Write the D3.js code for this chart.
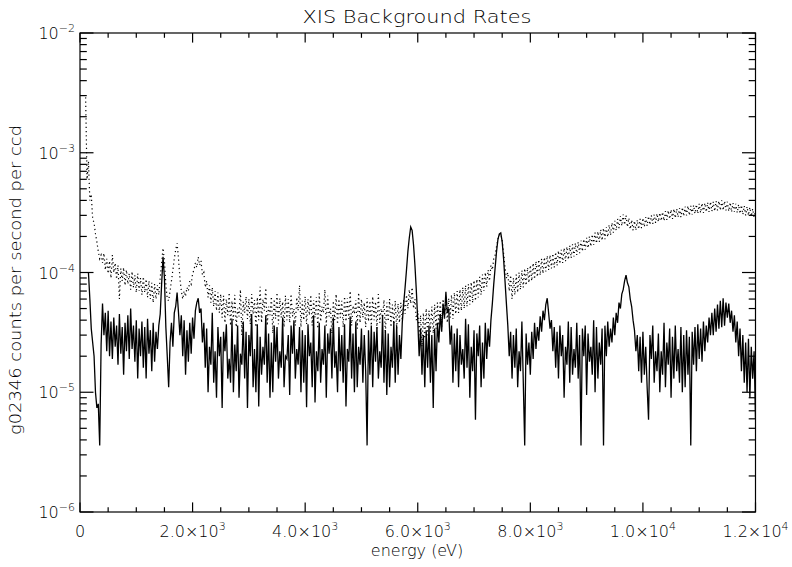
<!DOCTYPE html>
<html>
<head>
<meta charset="utf-8">
<script src="https://cdn.jsdelivr.net/npm/d3@7"></script>
<style>
  html, body { margin: 0; padding: 0; background: #fff; }
  svg { display: block; }
  text { font-family: "DejaVu Sans", "Liberation Sans", sans-serif; font-weight: 200; fill: #000; }
</style>
</head>
<body>
<svg id="chart" width="792" height="567"></svg>
<script>
// Channel grid: one sample every 25 eV from 0 to 12000 eV
const energyStart = 0;
const energyStep = 25;
// Rates below are listed in units of 1e-5 counts / s / ccd
const rateUnit = 1e-5;

// Instrument background (solid line)
const solidRate = [
  null, null, null, null, null, null, 10.0, 6.0, 3.4, 2.6,
  2.0, 1.0, 0.74, 0.8, 0.36, 2.5, 5.5, 3.0, 4.6, 2.2,
  4.8, 2.0, 3.9, 1.9, 4.2, 2.4, 3.6, 1.7, 4.5, 2.1,
  3.5, 1.4, 3.8, 2.2, 4.4, 1.9, 5.0, 2.3, 3.6, 1.8,
  4.0, 1.3, 3.4, 2.0, 3.9, 1.6, 3.5, 1.3, 4.1, 2.1,
  3.3, 1.5, 3.8, 1.8, 3.2, 2.3, 3.6, 4.5, 8.0, 13.5,
  9.0, 3.5, 2.0, 1.1, 2.6, 3.8, 2.4, 4.6, 5.2, 6.8,
  4.6, 3.0, 4.4, 2.0, 4.0, 1.4, 3.3, 1.8, 3.8, 2.1,
  4.2, 2.8, 4.8, 5.6, 6.1, 4.6, 5.0, 2.6, 3.8, 1.6,
  3.4, 1.0, 2.4, 1.7, 4.6, 1.2, 2.2, 0.9, 3.5, 2.0,
  2.9, 0.74, 3.2, 2.2, 3.7, 1.3, 1.9, 1.2, 4.1, 1.0,
  2.5, 1.5, 3.6, 0.9, 2.1, 1.7, 3.9, 1.3, 3.2, 0.74,
  3.0, 2.0, 4.5, 1.1, 2.3, 1.0, 3.7, 0.76, 2.9, 1.4,
  2.4, 1.7, 4.4, 1.2, 3.1, 0.9, 2.6, 1.0, 3.6, 1.8,
  3.5, 1.3, 2.2, 1.6, 4.2, 1.1, 2.0, 1.9, 3.0, 0.95,
  3.6, 2.1, 4.0, 1.3, 2.3, 1.7, 3.5, 1.0, 3.3, 1.2,
  3.0, 0.75, 3.7, 2.0, 2.6, 1.1, 4.4, 0.82, 2.2, 1.5,
  3.8, 1.2, 2.3, 1.7, 3.6, 0.9, 3.1, 2.1, 3.4, 1.3,
  4.2, 1.6, 2.2, 1.0, 3.5, 1.5, 3.0, 1.2, 3.7, 0.76,
  2.3, 1.8, 4.3, 1.3, 3.1, 1.0, 3.9, 1.1, 2.4, 1.7,
  3.4, 1.2, 3.0, 1.5, 0.36, 3.3, 1.4, 3.6, 1.1, 3.2,
  1.8, 3.5, 1.3, 2.2, 1.6, 4.4, 1.2, 3.3, 0.95, 3.1,
  1.1, 2.4, 1.6, 3.9, 1.2, 3.6, 1.4, 3.0, 1.9, 3.8,
  5.5, 7.5, 10.5, 15.0, 19.5, 24.0, 22.5, 17.0, 11.5, 7.0,
  4.0, 2.0, 3.4, 1.4, 3.0, 1.1, 3.3, 1.6, 3.6, 1.2,
  3.0, 0.74, 3.4, 1.5, 3.8, 2.6, 4.5, 3.2, 5.5, 4.2,
  6.9, 4.6, 5.0, 2.5, 3.6, 1.2, 3.1, 1.5, 3.4, 1.1,
  3.0, 1.7, 2.3, 1.3, 4.1, 1.6, 3.7, 0.9, 2.4, 1.5,
  3.3, 0.59, 3.1, 2.0, 3.6, 1.1, 2.6, 1.3, 3.8, 1.9,
  3.4, 2.4, 4.0, 5.5, 8.0, 11.0, 15.0, 19.0, 21.0, 21.4,
  18.0, 13.0, 8.5, 5.5, 3.6, 2.0, 3.2, 1.3, 3.0, 1.6,
  3.4, 1.1, 2.2, 1.5, 3.9, 1.2, 0.36, 3.1, 1.7, 2.6,
  1.4, 3.2, 1.9, 3.8, 2.3, 3.5, 2.7, 4.3, 3.2, 4.8,
  4.0, 5.4, 6.1, 4.6, 3.4, 4.0, 2.2, 3.5, 1.6, 3.2,
  1.3, 3.6, 2.0, 3.0, 0.9, 2.4, 1.7, 3.9, 1.2, 3.5,
  1.4, 2.3, 1.6, 3.8, 1.3, 3.0, 0.36, 3.4, 2.0, 3.6,
  0.95, 3.1, 1.8, 2.4, 1.4, 4.0, 1.0, 3.5, 1.3, 2.6,
  1.7, 3.4, 0.36, 3.6, 2.0, 3.9, 2.4, 3.4, 2.6, 4.2,
  3.0, 4.6, 3.8, 5.6, 5.0, 6.6, 7.2, 8.5, 9.5, 8.2,
  7.6, 6.0, 5.2, 4.0, 3.3, 2.2, 3.0, 1.5, 2.9, 1.2,
  3.2, 1.4, 2.4, 1.1, 0.59, 3.0, 1.9, 3.6, 1.2, 2.2,
  1.5, 3.1, 1.0, 2.2, 1.4, 3.8, 1.1, 2.6, 1.7, 3.4,
  0.9, 2.9, 1.3, 3.6, 1.5, 2.3, 1.2, 3.5, 1.0, 3.0,
  1.1, 3.3, 1.4, 2.9, 0.36, 3.2, 1.7, 3.5, 1.5, 3.7,
  1.9, 3.4, 1.8, 3.9, 2.2, 3.6, 2.6, 4.2, 3.0, 4.6,
  3.0, 5.0, 3.2, 5.4, 3.4, 5.8, 3.5, 6.1, 3.6, 5.6,
  4.2, 5.5, 3.8, 4.8, 3.2, 4.4, 2.6, 3.9, 2.0, 3.4,
  1.5, 3.0, 1.2, 2.6, 1.0, 2.8, 0.9, 2.4, 1.3, 2.2,
  0.6
];

// Total background (dotted line)
const dottedRate = [
  null, null, null, null, 290, 60, 85, 40, 45, 28,
  26, 21, 18, 15, 13, 14, 12.0, 14.5, 10.5, 13.0,
  9.8, 12.5, 9.0, 14.0, 10.0, 12.0, 8.8, 11.5, 6.0, 10.8,
  8.5, 11.0, 7.8, 10.5, 8.0, 9.8, 7.2, 10.2, 7.5, 9.5,
  6.8, 9.8, 7.0, 9.0, 6.5, 9.2, 6.8, 8.8, 6.2, 8.5,
  6.0, 8.2, 5.6, 8.0, 6.0, 7.8, 6.5, 9.0, 12.0, 16.0,
  12.5, 8.0, 6.0, 5.8, 7.0, 8.5, 10.5, 13.0, 15.5, 17.5,
  13.0, 9.0, 7.0, 6.0, 7.0, 6.3, 7.5, 7.0, 8.5, 8.0,
  9.8, 10.5, 12.0, 11.0, 13.5, 11.5, 12.5, 9.5, 10.0, 7.5,
  8.5, 6.2, 7.8, 5.6, 7.5, 5.2, 7.0, 4.8, 6.8, 4.6,
  6.6, 4.2, 6.4, 3.8, 6.0, 4.4, 6.8, 3.6, 5.8, 4.0,
  6.5, 3.5, 5.0, 4.3, 7.2, 3.0, 5.7, 4.6, 6.3, 4.1,
  6.0, 3.7, 6.6, 4.5, 5.9, 3.5, 6.2, 4.0, 7.6, 3.8,
  6.0, 4.8, 7.4, 3.6, 5.2, 4.4, 6.3, 3.1, 6.0, 4.1,
  6.8, 3.7, 6.1, 4.2, 5.7, 3.5, 6.4, 4.0, 6.0, 3.8,
  6.6, 4.3, 5.0, 3.6, 6.2, 4.8, 7.8, 3.5, 5.8, 4.0,
  6.3, 3.7, 6.0, 4.4, 6.5, 3.6, 5.9, 4.2, 6.2, 3.4,
  6.7, 3.9, 5.2, 4.6, 7.2, 3.6, 6.4, 4.3, 5.0, 3.1,
  5.8, 4.0, 6.6, 3.7, 6.0, 4.2, 5.8, 3.5, 6.3, 3.9,
  6.1, 4.1, 7.0, 3.6, 5.3, 4.5, 5.9, 3.4, 6.8, 3.8,
  6.0, 4.2, 5.6, 3.5, 6.1, 3.9, 5.8, 3.6, 6.3, 4.0,
  5.7, 3.4, 6.6, 3.8, 5.0, 4.2, 5.9, 3.1, 5.6, 3.9,
  6.0, 3.5, 5.4, 3.7, 5.8, 3.4, 5.5, 3.8, 5.6, 4.0,
  6.0, 4.5, 6.5, 5.0, 7.2, 5.5, 7.5, 5.0, 6.0, 4.0,
  4.8, 3.0, 4.4, 2.4, 4.6, 2.8, 5.0, 3.0, 4.8, 3.2,
  5.2, 3.1, 5.4, 3.4, 5.6, 3.6, 5.8, 3.5, 6.0, 4.0,
  6.3, 3.8, 6.1, 4.2, 6.5, 4.1, 6.8, 4.5, 7.0, 4.6,
  7.2, 4.8, 7.5, 5.0, 7.8, 5.2, 8.0, 5.4, 8.3, 5.6,
  8.6, 5.8, 8.8, 6.2, 9.2, 6.5, 9.6, 7.0, 10.0, 7.6,
  10.5, 8.5, 11.5, 10.5, 13.0, 14.0, 16.5, 19.0, 20.5, 21.0,
  18.5, 14.5, 11.0, 9.0, 10.0, 7.0, 9.5, 6.0, 9.0, 6.5,
  9.6, 6.8, 10.0, 7.2, 10.4, 7.5, 10.8, 7.8, 11.0, 8.2,
  11.5, 8.5, 12.0, 8.8, 12.4, 9.2, 12.8, 9.5, 13.0, 9.8,
  13.4, 10.2, 13.8, 10.5, 14.0, 10.8, 14.4, 11.0, 14.8, 11.4,
  15.2, 11.8, 15.5, 12.0, 16.0, 12.4, 16.4, 12.8, 16.8, 13.2,
  17.2, 13.6, 17.6, 14.0, 18.0, 14.5, 18.5, 15.0, 19.0, 15.5,
  19.5, 16.0, 20.0, 16.5, 20.8, 17.0, 21.5, 17.5, 22.0, 18.0,
  22.8, 18.5, 23.5, 19.0, 24.0, 19.8, 25.0, 20.5, 26.0, 21.5,
  27.0, 22.5, 28.0, 23.5, 29.5, 24.5, 30.5, 25.0, 30.0, 24.0,
  28.5, 23.0, 27.5, 22.5, 27.0, 22.5, 27.5, 23.0, 28.0, 23.5,
  28.5, 24.0, 29.0, 24.5, 29.5, 25.0, 30.0, 25.5, 30.5, 26.0,
  31.0, 26.5, 31.5, 27.0, 32.0, 27.0, 32.5, 27.5, 33.0, 28.0,
  33.5, 28.0, 34.0, 28.5, 34.0, 29.0, 34.5, 29.0, 35.0, 29.5,
  35.5, 30.0, 36.0, 30.0, 36.0, 30.5, 36.5, 31.0, 37.0, 31.0,
  37.5, 31.5, 38.0, 31.5, 38.0, 32.0, 38.5, 32.0, 39.0, 32.5,
  39.0, 32.5, 39.5, 33.0, 39.5, 33.0, 40.0, 33.0, 39.5, 33.0,
  39.0, 32.5, 38.5, 32.0, 38.0, 32.0, 37.5, 31.5, 37.0, 31.0,
  36.5, 30.5, 36.0, 30.0, 35.5, 30.0, 35.0, 29.5, 34.0, 29.0,
  33.0
];

// Axis ticks
const xMajorTicks = [0, 2000, 4000, 6000, 8000, 10000, 12000];
const xTickLabels = [["0", ""], ["2.0\u00d710", "3"], ["4.0\u00d710", "3"], ["6.0\u00d710", "3"],
                     ["8.0\u00d710", "3"], ["1.0\u00d710", "4"], ["1.2\u00d710", "4"]];
const yMajorTicks = [1e-6, 1e-5, 1e-4, 1e-3, 1e-2];
const yTickExponents = ["\u22126", "\u22125", "\u22124", "\u22123", "\u22122"];

const titleText = "XIS Background Rates";
const xTitle = "energy (eV)";
const yTitle = "g02346 counts per second per ccd";

(function draw() {
  // Plot frame in pixels
  const pL = 80, pR = 755.5, pT = 33, pB = 512;
  const svg = d3.select("#chart");

  const x = d3.scaleLinear().domain([0, 12000]).range([pL, pR]);
  const y = d3.scaleLog().domain([1e-6, 1e-2]).range([pB, pT]);

  const energy = i => energyStart + i * energyStep;

  svg.append("defs").append("clipPath").attr("id", "plotClip")
    .append("rect").attr("x", pL).attr("y", pT)
    .attr("width", pR - pL).attr("height", pB - pT);

  const line = d3.line()
    .defined(d => d != null)
    .x((d, i) => x(energy(i)))
    .y(d => y(d * rateUnit));

  const plot = svg.append("g").attr("clip-path", "url(#plotClip)");

  plot.append("path")
    .datum(dottedRate)
    .attr("d", line)
    .attr("fill", "none")
    .attr("stroke", "#000")
    .attr("stroke-width", 1.2)
    .attr("stroke-dasharray", "1.2 3");

  plot.append("path")
    .datum(solidRate)
    .attr("d", line)
    .attr("fill", "none")
    .attr("stroke", "#000")
    .attr("stroke-width", 1.3);

  // Frame with inward ticks on all four sides
  const axes = svg.append("g").attr("stroke", "#000").attr("stroke-width", 1.2);
  axes.append("rect").attr("x", pL).attr("y", pT)
    .attr("width", pR - pL).attr("height", pB - pT).attr("fill", "none");

  const xMinorTicks = d3.range(0, 12001, 500).filter(v => v % 2000 !== 0);
  const xMajLen = 9.6, xMinLen = 4.8, yMajLen = 13.5, yMinLen = 6.8;

  xMajorTicks.forEach(v => {
    axes.append("line").attr("x1", x(v)).attr("x2", x(v)).attr("y1", pB).attr("y2", pB - xMajLen);
    axes.append("line").attr("x1", x(v)).attr("x2", x(v)).attr("y1", pT).attr("y2", pT + xMajLen);
  });
  xMinorTicks.forEach(v => {
    axes.append("line").attr("x1", x(v)).attr("x2", x(v)).attr("y1", pB).attr("y2", pB - xMinLen);
    axes.append("line").attr("x1", x(v)).attr("x2", x(v)).attr("y1", pT).attr("y2", pT + xMinLen);
  });

  const yMinorTicks = [];
  yMajorTicks.slice(0, -1).forEach(d => { for (let k = 2; k <= 9; k++) yMinorTicks.push(d * k); });

  yMajorTicks.forEach(v => {
    axes.append("line").attr("x1", pL).attr("x2", pL + yMajLen).attr("y1", y(v)).attr("y2", y(v));
    axes.append("line").attr("x1", pR).attr("x2", pR - yMajLen).attr("y1", y(v)).attr("y2", y(v));
  });
  yMinorTicks.forEach(v => {
    axes.append("line").attr("x1", pL).attr("x2", pL + yMinLen).attr("y1", y(v)).attr("y2", y(v));
    axes.append("line").attr("x1", pR).attr("x2", pR - yMinLen).attr("y1", y(v)).attr("y2", y(v));
  });

  // Tick labels
  const fs = 16;
  xMajorTicks.forEach((v, i) => {
    const t = svg.append("text")
      .attr("x", x(v)).attr("y", 537)
      .attr("text-anchor", "middle")
      .attr("font-size", fs);
    t.append("tspan").text(xTickLabels[i][0]);
    if (xTickLabels[i][1]) {
      t.append("tspan").attr("dy", -7).attr("font-size", 11).text(xTickLabels[i][1]);
    }
  });

  yMajorTicks.forEach((v, i) => {
    const t = svg.append("text")
      .attr("x", 75).attr("y", y(v) + 6)
      .attr("text-anchor", "end")
      .attr("font-size", fs);
    t.append("tspan").text("10");
    t.append("tspan").attr("dy", -7).attr("font-size", 11).text(yTickExponents[i]);
  });

  // Titles
  svg.append("text")
    .attr("x", 417).attr("y", 23)
    .attr("text-anchor", "middle")
    .attr("font-size", 17)
    .attr("textLength", 229).attr("lengthAdjust", "spacingAndGlyphs")
    .text(titleText);

  svg.append("text")
    .attr("x", 417).attr("y", 556)
    .attr("text-anchor", "middle")
    .attr("font-size", 16)
    .text(xTitle);

  svg.append("text")
    .attr("transform", "translate(21,280) rotate(-90)")
    .attr("text-anchor", "middle")
    .attr("font-size", 16)
    .attr("textLength", 310).attr("lengthAdjust", "spacingAndGlyphs")
    .text(yTitle);
})();
</script>
</body>
</html>
